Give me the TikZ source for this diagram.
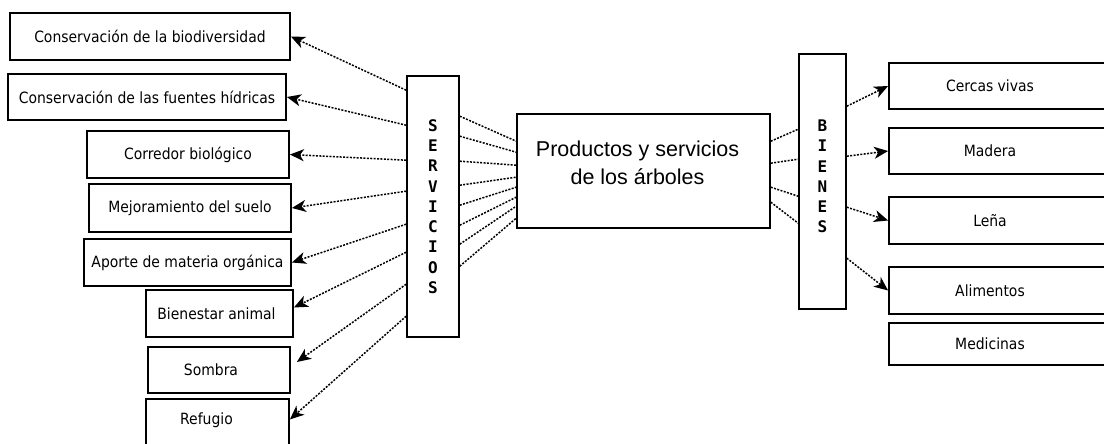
\documentclass[tikz,border=0pt]{standalone}
\usepackage{fontspec}
\usepackage{tikz}
\usetikzlibrary{arrows.meta}

\newfontfamily\boxfont{DejaVu Sans Condensed}
\newfontfamily\prodfont{Liberation Sans}
\newfontfamily\letterfont{DejaVu Sans Mono}

\tikzset{
  box/.style={draw, line width=1.8pt, inner sep=1pt, font=\boxfont\fontsize{15.5}{18}\selectfont},
  boxtext/.style={font=\boxfont\fontsize{15.5}{18}\selectfont},
  bar/.style={draw, line width=1.6pt, inner sep=0pt, align=center,
    font=\letterfont\bfseries\fontsize{16}{20.3}\selectfont},
  link/.style={dash pattern=on 2pt off 1.4pt, line width=1.5pt},
  arrowlink/.style={link, -{Stealth[length=14pt, width=12pt, inset=4pt]}},
}

\begin{document}
\begin{tikzpicture}[x=1pt, y=-1pt]
  \useasboundingbox (0,0) rectangle (1104,444);

  % servicios
  \node[box, minimum width=280, minimum height=47] (cons) at (150,36.5) {Conservación de la biodiversidad};
  \node[box, minimum width=278, minimum height=46] (fuentes) at (147,97) {Conservación de las fuentes hídricas};
  \node[box, minimum width=202, minimum height=47] (corredor) at (188,154.5) {Corredor biológico};
  \node[box, minimum width=202, minimum height=48] (suelo) at (190,208) {Mejoramiento del suelo};
  \node[box, minimum width=207, minimum height=47] (materia) at (187.5,262.5) {Aporte de materia orgánica};
  \node[box, minimum width=147, minimum height=47, label={[boxtext, xshift=-3pt]center:Bienestar animal}] (bienestar) at (219.5,313.5) {};
  \node[box, minimum width=142, minimum height=46, label={[boxtext, xshift=-8pt]center:Sombra}] (sombra) at (219,370) {};
  \node[box, minimum width=143, minimum height=71, label={[boxtext, xshift=-11pt, yshift=14pt]center:Refugio}] (refugio) at (217.5,434.5) {};

  \node[bar, minimum width=52, minimum height=261] (serv) at (433,206.5) {S\\E\\R\\V\\I\\C\\I\\O\\S};
  \node[draw, line width=1.6pt, minimum width=253, minimum height=114,
    label={[yshift=8pt, xshift=-6pt, align=center, font=\prodfont\fontsize{21.5}{28}\selectfont]center:Productos y servicios\\de los árboles}] (prod) at (643.5,171) {};
  \node[bar, minimum width=47, minimum height=255, label={[yshift=5pt, align=center,
    font=\letterfont\bfseries\fontsize{16}{20.3}\selectfont]center:B\\I\\E\\N\\E\\S}] (bien) at (822.5,181.5) {};

  % bienes
  \node[box, minimum width=222, minimum height=46, label={[boxtext, xshift=-10pt]center:Cercas vivas}] (cercas) at (1000,86) {};
  \node[box, minimum width=222, minimum height=46, label={[boxtext, xshift=-10pt]center:Madera}] (madera) at (1000,151) {};
  \node[box, minimum width=222, minimum height=47, label={[boxtext, xshift=-10pt]center:Leña}] (lena) at (1000,220.5) {};
  \node[box, minimum width=222, minimum height=47, label={[boxtext, xshift=-10pt]center:Alimentos}] (alimentos) at (1000,290.5) {};
  \node[box, minimum width=222, minimum height=42, label={[boxtext, xshift=-10pt]center:Medicinas}] (medicinas) at (1000,344) {};

  % flechas a los servicios
  \draw[arrowlink] ([yshift=-15pt]serv.north west) -- (cons.east);
  \draw[arrowlink] ([yshift=-50pt]serv.north west) -- (fuentes.east);
  \draw[arrowlink] ([yshift=-85pt]serv.north west) -- (corredor.east);
  \draw[arrowlink] ([yshift=-116pt]serv.north west) -- (suelo.east);
  \draw[arrowlink] ([yshift=-149pt]serv.north west) -- (materia.east);
  \draw[arrowlink] ([yshift=-177pt]serv.north west) -- ([yshift=6pt]bienestar.east);
  \draw[arrowlink] ([yshift=-209pt]serv.north west) -- ([xshift=6pt, yshift=8pt]sombra.east);
  \draw[arrowlink] ([yshift=-241pt]serv.north west) -- ([yshift=15pt]refugio.east);

  % productos - servicios
  \draw[link] ([yshift=-41pt]serv.north east) -- ([yshift=-28pt]prod.north west);
  \draw[link] ([yshift=-61pt]serv.north east) -- ([yshift=-39pt]prod.north west);
  \draw[link] ([yshift=-86pt]serv.north east) -- ([yshift=-52pt]prod.north west);
  \draw[link] ([yshift=-110pt]serv.north east) -- ([yshift=-64pt]prod.north west);
  \draw[link] ([yshift=-130pt]serv.north east) -- ([yshift=-74pt]prod.north west);
  \draw[link] ([yshift=-150pt]serv.north east) -- ([yshift=-84pt]prod.north west);
  \draw[link] ([yshift=-169pt]serv.north east) -- ([yshift=-93pt]prod.north west);
  \draw[link] ([yshift=-191pt]serv.north east) -- ([yshift=-105pt]prod.north west);

  % productos - bienes
  \draw[link] ([yshift=-28pt]prod.north east) -- ([yshift=-76pt]bien.north west);
  \draw[link] ([yshift=-50pt]prod.north east) -- ([yshift=-106pt]bien.north west);
  \draw[link] ([yshift=-74pt]prod.north east) -- ([yshift=-143pt]bien.north west);
  \draw[link] ([yshift=-89pt]prod.north east) -- ([yshift=-170pt]bien.north west);

  % flechas a los bienes
  \draw[arrowlink] ([yshift=-53pt]bien.north east) -- (cercas.west);
  \draw[arrowlink] ([yshift=-103pt]bien.north east) -- (madera.west);
  \draw[arrowlink] ([yshift=-154pt]bien.north east) -- (lena.west);
  \draw[arrowlink] ([yshift=-205pt]bien.north east) -- (alimentos.west);
\end{tikzpicture}
\end{document}
